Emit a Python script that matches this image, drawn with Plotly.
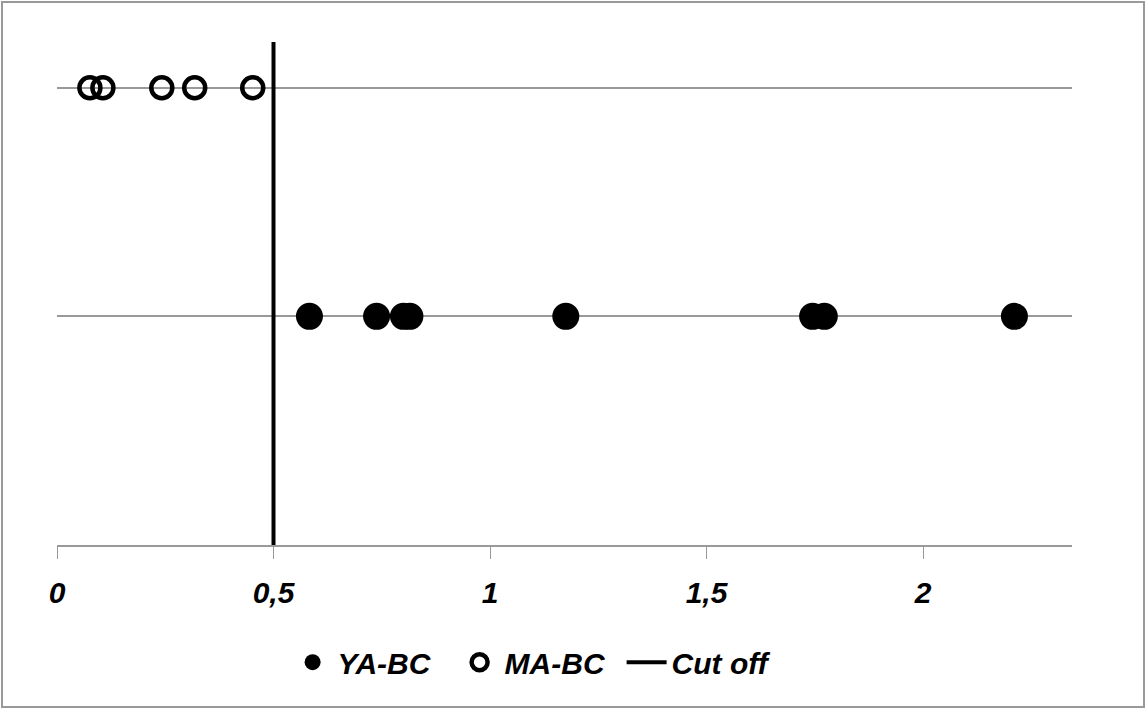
import plotly.graph_objects as go

ya_bc_x = [0.583, 0.738, 0.80, 0.815, 1.175, 1.745, 1.772, 2.211]
ya_bc_y = [1, 1, 1, 1, 1, 1, 1, 1]
ma_bc_x = [0.076, 0.106, 0.242, 0.318, 0.452]
ma_bc_y = [2, 2, 2, 2, 2]
cutoff_x = [0.5, 0.5]
cutoff_y = [0, 2.2]
x_ticks = [0, 0.5, 1, 1.5, 2]
x_tick_labels = ["0", "0,5", "1", "1,5", "2"]

W, H = 1147, 710
L, R, T, B = 57, 75, 42, 165

fig = go.Figure()
fig.add_trace(go.Scatter(
    x=ya_bc_x, y=ya_bc_y, mode="markers", name="YA-BC",
    marker=dict(symbol="circle", size=27, color="black", line=dict(width=0)),
))
fig.add_trace(go.Scatter(
    x=ma_bc_x, y=ma_bc_y, mode="markers", name="MA-BC",
    marker=dict(symbol="circle-open", size=21, color="black", line=dict(width=4.5, color="black")),
))
fig.add_trace(go.Scatter(
    x=cutoff_x, y=cutoff_y, mode="lines", name="Cut off",
    line=dict(color="black", width=4),
))

font_family = "Liberation Sans, Arial, sans-serif"
fig.update_layout(
    width=W, height=H,
    margin=dict(l=L, r=R, t=T, b=B),
    paper_bgcolor="white", plot_bgcolor="white",
    showlegend=True,
    legend=dict(
        orientation="h", x=0.474, xanchor="center", y=-0.233, yanchor="middle",
        font=dict(family=font_family, size=30, color="black", style="italic", weight="bold"),
        itemwidth=40, tracegroupgap=0, entrywidth=112, entrywidthmode="pixels",
    ),
    xaxis=dict(
        range=[0, 2.344], tickvals=x_ticks, ticktext=x_tick_labels,
        showgrid=False, zeroline=False,
        showline=True, linecolor="#999999", linewidth=1.5,
        ticks="outside", ticklen=12, tickcolor="#999999", tickwidth=1,
        ticklabelstandoff=8,
        tickfont=dict(family=font_family, size=30, color="black", style="italic", weight="bold"),
    ),
    yaxis=dict(
        range=[0, 2.2], tickvals=[1, 2], showticklabels=False,
        showgrid=True, gridcolor="#999999", gridwidth=1.5,
        zeroline=False, showline=False, ticks="",
    ),
    shapes=[dict(
        type="rect", xref="paper", yref="paper",
        x0=(2 - L) / (W - L - R), x1=(W - 3 - L) / (W - L - R),
        y0=-(H - 3 - T - (H - T - B)) / (H - T - B), y1=1 + (T - 2) / (H - T - B),
        line=dict(color="#999999", width=2), fillcolor="rgba(0,0,0,0)",
    )],
)

fig.write_html("out.html", config={"displayModeBar": False},
               post_script="document.body.style.margin='0';document.body.style.overflow='hidden';")
